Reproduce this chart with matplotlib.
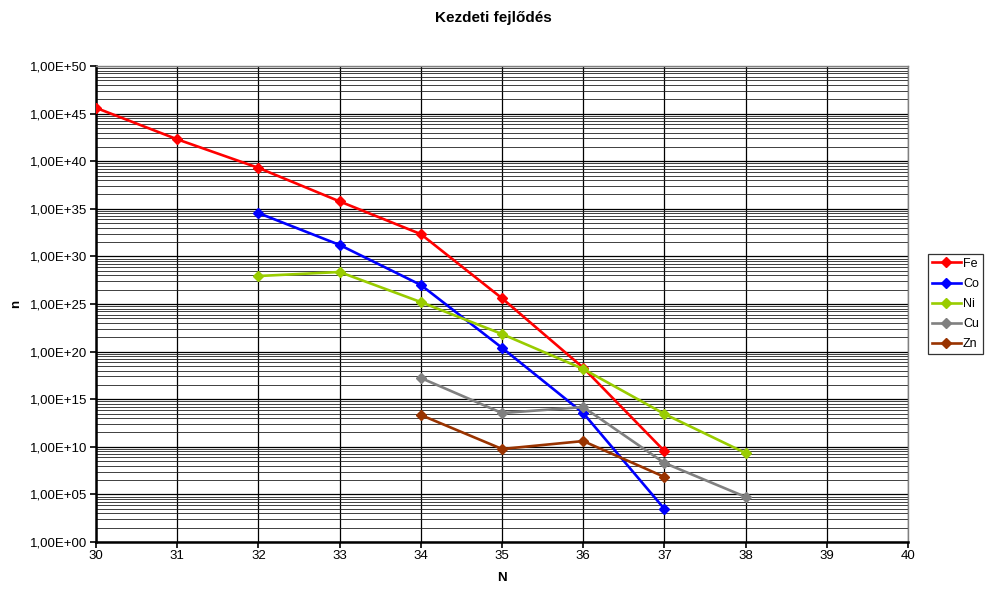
import matplotlib
matplotlib.use("Agg")
import matplotlib.pyplot as plt
import numpy as np
from matplotlib.ticker import FixedLocator, FuncFormatter, NullFormatter

# n vs N for each element
N_FE = [30, 31, 32, 33, 34, 35, 36, 37]
FE = [4e45, 2e42, 2e39, 6e35, 2.2e32, 4e25, 2e18, 3.6e9]

N_CO = [32, 33, 34, 35, 36, 37]
CO = [3.6e34, 1.6e31, 1e27, 2.5e20, 3.5e13, 3e3]

N_NI = [32, 33, 34, 35, 36, 37, 38]
NI = [8.7e27, 2.3e28, 1.6e25, 7e21, 1.5e18, 2.8e13, 2.2e9]

N_CU = [34, 35, 36, 37, 38]
CU = [1.7e17, 3.5e13, 1.5e14, 2e8, 5.4e4]

N_ZN = [34, 35, 36, 37]
ZN = [2.2e13, 5.9e9, 4e10, 6.8e6]

SERIES = [
    ("Fe", N_FE, FE, "#FF0000"),
    ("Co", N_CO, CO, "#0000FF"),
    ("Ni", N_NI, NI, "#99CC00"),
    ("Cu", N_CU, CU, "#808080"),
    ("Zn", N_ZN, ZN, "#993300"),
]

plt.rcParams["font.family"] = ["Liberation Sans", "DejaVu Sans"]

fig = plt.figure(figsize=(9.9, 5.92), dpi=100)
ax = fig.add_axes([96 / 990, 50 / 592, 812 / 990, 476 / 592])

for name, xs, ys, col in SERIES:
    ax.plot(xs, ys, color=col, linewidth=1.9, marker="D", markersize=5.5,
            label=name, zorder=3)

ax.set_yscale("log")
ax.set_xlim(30, 40)
ax.set_ylim(1, 1e50)

# major every 5 decades, minor spaced like a base-10 axis stretched over 5 decades
major = [10.0 ** e for e in range(0, 51, 5)]
minor = [10.0 ** e * k ** 5 for e in range(0, 50, 5) for k in range(2, 10)]
ax.yaxis.set_major_locator(FixedLocator(major))
ax.yaxis.set_minor_locator(FixedLocator(minor))
ax.yaxis.set_minor_formatter(NullFormatter())
ax.yaxis.set_major_formatter(
    FuncFormatter(lambda v, p: "1,00E+%02d" % round(np.log10(v))))
ax.set_xticks(range(30, 41))

ax.grid(True, which="major", axis="both", color="black", linewidth=0.9)
ax.grid(True, which="minor", axis="y", color="#202020", linewidth=0.6)
ax.set_axisbelow(True)

ax.tick_params(axis="both", which="major", direction="out", length=4,
               width=1.2, labelsize=9.5, pad=2)
ax.tick_params(axis="y", which="minor", length=0)

for side in ("left", "bottom"):
    ax.spines[side].set_linewidth(1.8)
for side in ("top", "right"):
    ax.spines[side].set_color("#808080")
    ax.spines[side].set_linewidth(1.0)

ax.set_xlabel("N", fontsize=9.5, fontweight="bold", labelpad=7)
ax.set_ylabel("n", fontsize=9.5, fontweight="bold", labelpad=6)
fig.text(493 / 990, 1 - 18 / 592, "Kezdeti fejlődés", ha="center", va="center",
         fontsize=11, fontweight="bold")

leg = fig.legend(loc="center left", bbox_to_anchor=(928 / 990, 1 - 304 / 592),
                 fontsize=9, frameon=True, fancybox=False, edgecolor="black",
                 handlelength=2.3, handletextpad=0.2, borderpad=0.3,
                 borderaxespad=0, labelspacing=0.65)
leg.get_frame().set_linewidth(0.9)

fig.savefig("out.png", dpi=100)
